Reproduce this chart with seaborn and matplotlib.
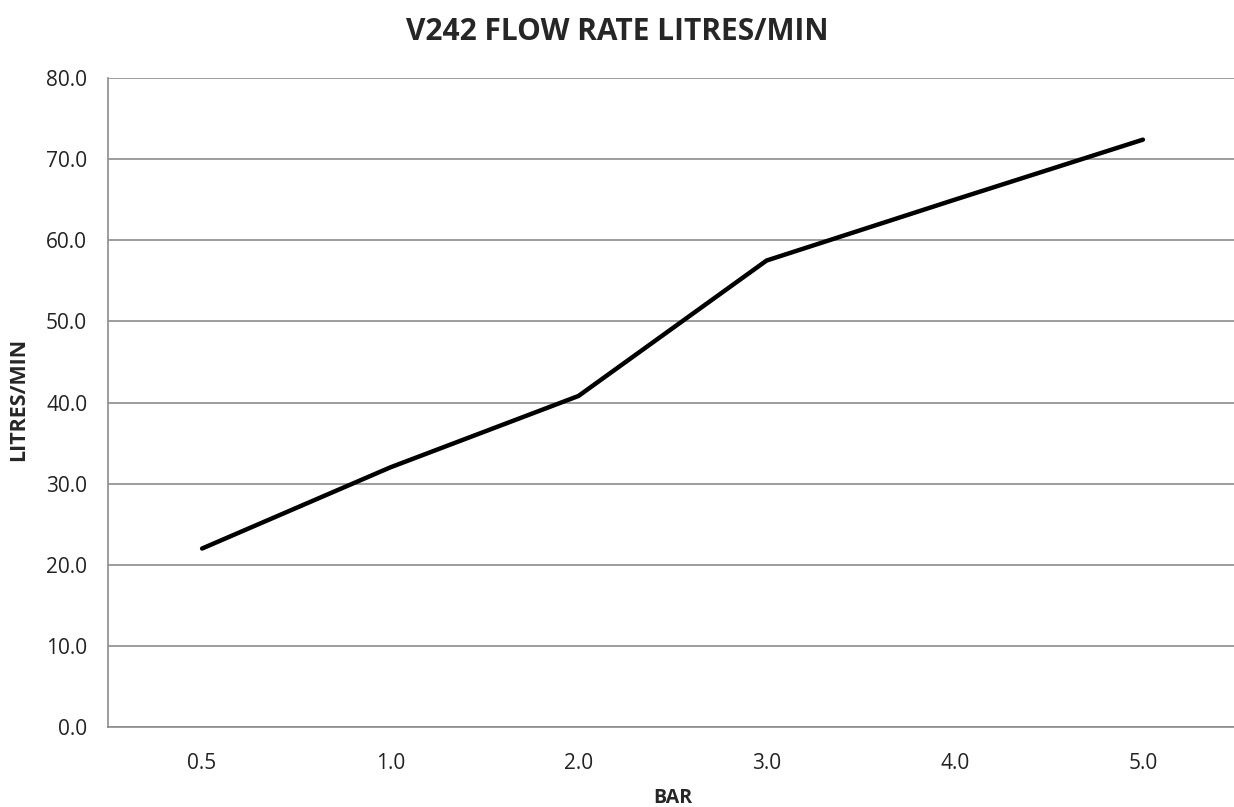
import matplotlib
matplotlib.use("Agg")
import matplotlib.pyplot as plt
import seaborn as sns
import pandas as pd

# Flow rate readings
bar = ["0.5", "1.0", "2.0", "3.0", "4.0", "5.0"]
flow = [22.0, 32.0, 40.8, 57.5, 65.0, 72.4]

df = pd.DataFrame({"bar": bar, "flow": flow})

sns.set_style("white")
plt.rcParams['font.family'] = ['Open Sans', 'DejaVu Sans']

fig = plt.figure(figsize=(12.34, 8.07), dpi=100)
ax = fig.add_axes([108 / 1234, 1 - 727 / 807, 1129 / 1234, 649 / 807])

sns.lineplot(data=df, x="bar", y="flow", color="black", linewidth=3.2,
             sort=False, ax=ax, solid_capstyle="round")

ax.set_xlim(-0.5, len(bar) - 0.5)
ax.set_ylim(0, 80)
ax.set_yticks(range(0, 81, 10))
ax.set_yticklabels([f"{v:.1f}" for v in range(0, 81, 10)])
ax.yaxis.grid(True, color="#8c8c8c", linewidth=1.2)
ax.set_axisbelow(True)

for side in ["top", "right"]:
    ax.spines[side].set_visible(False)
for side in ["left", "bottom"]:
    ax.spines[side].set_color("#8c8c8c")
    ax.spines[side].set_linewidth(1.2)

ax.tick_params(axis="both", length=0, labelsize=15, colors="#222222")
ax.tick_params(axis="y", pad=15)
ax.tick_params(axis="x", pad=19)

ax.set_xlabel("BAR", fontsize=14, fontweight="bold")
ax.set_ylabel("LITRES/MIN", fontsize=15.5, fontweight="bold")
ax.xaxis.set_label_coords(0.5, -(788 - 727) / 649)
ax.yaxis.set_label_coords((29 - 108) / 1129, 0.505)
fig.text(0.5, 1 - 32 / 807, "V242 FLOW RATE LITRES/MIN", ha="center", va="center",
         fontsize=21.5, fontweight="bold")

plt.savefig("out.png", dpi=100)
